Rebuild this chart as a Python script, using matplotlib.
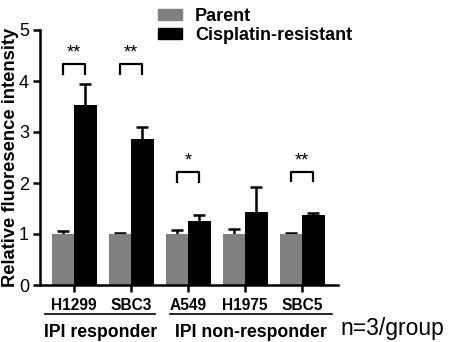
import numpy as np
import matplotlib.pyplot as plt
from matplotlib.patches import Patch
import matplotlib.transforms as mtransforms

plt.rcParams['font.family'] = ['Liberation Sans', 'DejaVu Sans']

# data
cells = ['H1299', 'SBC3', 'A549', 'H1975', 'SBC5']
parent = [1.00, 1.00, 1.00, 1.00, 1.00]
parent_err = [0.05, 0.02, 0.08, 0.09, 0.01]
resistant = [3.53, 2.86, 1.25, 1.43, 1.37]
resistant_err = [0.41, 0.24, 0.13, 0.50, 0.04]
sig_labels = ['**', '**', '*', '', '**']
sig_height = [4.14, 4.14, 2.02, None, 2.03]
groups = ['IPI responder', 'IPI non-responder']
group_span = [(-0.51, 1.42), (1.68, 4.53)]

fig = plt.figure(figsize=(4.61, 3.42), dpi=100)
ax = fig.add_axes([40/461, 57/342, 298/461, 255/342])

x = np.arange(len(cells))
w = 0.395
ekw = dict(fmt='none', ecolor='black', elinewidth=1.8, capsize=4.3, capthick=1.8, zorder=1)
# error bars drawn symmetric behind the bars, so only the upper half shows
ax.errorbar(x - w/2, parent, yerr=parent_err, **ekw)
ax.errorbar(x + w/2, resistant, yerr=resistant_err, **ekw)
ax.bar(x - w/2, parent, w, color='#808080', zorder=2, label='Parent')
ax.bar(x + w/2, resistant, w, color='black', zorder=2, label='Cisplatin-resistant')

# significance brackets
for i, (lab, h) in enumerate(zip(sig_labels, sig_height)):
    if h is None:
        continue
    x0, x1 = i - w/2, i + w/2
    ax.plot([x0, x0, x1, x1], [h, h + 0.19, h + 0.19, h], color='black', lw=1.6,
            clip_on=False)
    ax.text(i, h + 0.24, lab, ha='center', va='bottom', fontsize=13)

ax.set_xlim(-0.6, 4.63)
ax.set_ylim(0, 5)
ax.set_yticks([0, 1, 2, 3, 4, 5])
ax.set_xticks(x)
ax.set_xticklabels(cells, fontsize=11.2, fontweight='bold')
ax.tick_params(axis='y', labelsize=13, width=1.8, length=5, pad=3)
ax.tick_params(axis='x', width=1.8, length=5, pad=4.5)
for s in ['top', 'right']:
    ax.spines[s].set_visible(False)
for s in ['left', 'bottom']:
    ax.spines[s].set_linewidth(1.8)
ax.set_ylabel('Relative fluoresence intensity', fontsize=13.2, fontweight='bold')
ax.yaxis.set_label_coords(-0.069, 0.5)

# group lines and labels below the axis
trans = mtransforms.blended_transform_factory(ax.transData, ax.transAxes)
for name, (a, b) in zip(groups, group_span):
    ax.plot([a, b], [-0.114, -0.114], color='black', lw=1.2, transform=trans, clip_on=False)
    ax.text((a + b)/2, -0.202, name, ha='center', va='baseline', fontsize=12.7,
            fontweight='bold', transform=trans)
ax.text(4.67, -0.197, 'n=3/group', ha='left', va='baseline', fontsize=16.5, transform=trans)

handles = [Patch(color='#808080', label='Parent'),
           Patch(color='black', label='Cisplatin-resistant')]
fig.legend(handles=handles, loc='upper left', bbox_to_anchor=(158/461, 1 - 8/342),
           frameon=False, prop=dict(weight='bold', size=13), handlelength=1.33,
           handleheight=0.55, handletextpad=0.72, labelspacing=0.1, borderpad=0,
           borderaxespad=0)

fig.savefig('out.png', dpi=100)
